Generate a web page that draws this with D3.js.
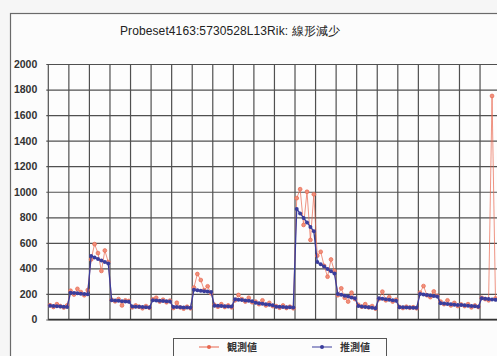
<!DOCTYPE html>
<html>
<head>
<meta charset="utf-8">
<script src="https://cdn.jsdelivr.net/npm/d3@7"></script>
<style>
  body { margin: 0; background: #f6f6f6; }
  svg { display: block; }
</style>
</head>
<body>
<svg id="chart" width="497" height="356"></svg>
<script>
// Expression profile: 22 sample groups, 6 time points each
const chartTitle = "Probeset4163:5730528L13Rik: 線形減少";
const seriesNames = ["観測値", "推測値"];
const pointsPerGroup = 6;
const groupCount = 22;
const yTicks = [0, 200, 400, 600, 800, 1000, 1200, 1400, 1600, 1800, 2000];

// observed values
const observed = [
  112, 98, 120, 105, 94, 110,
  225, 195, 240, 215, 190, 230,
  470, 590, 520, 380, 540, 450,
  155, 142, 160, 110, 150, 145,
  95, 110, 100, 88, 105, 92,
  158, 170, 140, 155, 135, 148,
  90, 131, 95, 85, 100, 88,
  250, 356, 309, 230, 260, 205,
  115, 100, 120, 98, 110, 95,
  150, 192, 160, 140, 170, 135,
  140, 120, 150, 110, 130, 105,
  105, 92, 110, 90, 100, 88,
  950, 1020, 740, 1000, 623, 980,
  500, 530, 420, 335, 470, 380,
  190, 244, 170, 140, 210, 160,
  115, 100, 120, 95, 105, 85,
  160, 218, 150, 175, 140, 155,
  98, 90, 100, 92, 96, 88,
  210, 262, 190, 175, 220, 185,
  140, 120, 150, 110, 130, 105,
  118, 105, 120, 95, 110, 98,
  170, 160, 150, 1750, 165, 155
];

// fitted (linearly decreasing) values
const estimated = [
  108, 106, 104, 102, 100, 98,
  210, 208, 205, 202, 200, 197,
  498, 486, 474, 462, 450, 438,
  150, 148, 146, 143, 141, 139,
  102, 100, 99, 97, 96, 94,
  150, 148, 146, 144, 142, 140,
  98, 97, 96, 94, 93, 92,
  232, 229, 226, 222, 219, 216,
  108, 107, 105, 104, 102, 101,
  158, 155, 152, 149, 146, 143,
  132, 128, 124, 120, 116, 112,
  100, 99, 98, 96, 95, 94,
  865, 830, 795, 760, 725, 690,
  450, 432, 414, 396, 378, 360,
  200, 193, 186, 180, 173, 166,
  106, 102, 98, 95, 92, 88,
  166, 162, 158, 155, 151, 147,
  96, 95, 94, 93, 92, 91,
  200, 196, 192, 188, 184, 180,
  128, 125, 122, 119, 116, 113,
  114, 111, 108, 106, 103, 100,
  166, 163, 160, 157, 154, 151
];

const colors = { obs: "#e8674f", est: "#3a3d9c" };
const font = "'Liberation Sans', Arial, sans-serif";

const svg = d3.select("#chart");

// chart area with frame
svg.append("rect").attr("x", 10.5).attr("y", 13.5).attr("width", 520).attr("height", 360)
  .attr("fill", "#fcfcfc").attr("stroke", "#6a6a6a").attr("stroke-width", 1.2);

svg.append("text").attr("x", 230).attr("y", 35)
  .attr("text-anchor", "middle").attr("font-family", font)
  .attr("font-size", 12).attr("fill", "#222").attr("letter-spacing", 0.1).text(chartTitle);

const n = pointsPerGroup * groupCount;
const x = d3.scaleLinear().domain([0, n]).range([48.3, 500.6]);
const y = d3.scaleLinear().domain([0, 2000]).range([319.5, 64]);

// plot background
svg.append("rect").attr("x", x(0)).attr("y", y(2000))
  .attr("width", x(n) - x(0)).attr("height", y(0) - y(2000)).attr("fill", "#fdfdfd");

// horizontal gridlines + y axis labels
const yAxis = d3.axisLeft(y).tickValues(yTicks).tickSize(-(x(n) - x(0)) - 2).tickPadding(10)
  .tickFormat(d3.format("d"));
const gy = svg.append("g").attr("transform", `translate(${x(0) - 2},0)`).call(yAxis);
gy.select(".domain").remove();
gy.selectAll(".tick line").attr("stroke", "#505050").attr("stroke-width", 1.2);
gy.selectAll(".tick text").attr("font-family", font).attr("font-size", 10.5)
  .attr("font-weight", "bold").attr("fill", "#333").attr("x", -9).attr("dx", 0);

// vertical gridlines at group boundaries
svg.append("g").selectAll("line").data(d3.range(0, groupCount + 1)).join("line")
  .attr("x1", d => x(d * pointsPerGroup)).attr("x2", d => x(d * pointsPerGroup))
  .attr("y1", y(2000)).attr("y2", y(0))
  .attr("stroke", "#505050").attr("stroke-width", 1.2);

// axis baseline
svg.append("line").attr("x1", x(0)).attr("x2", x(n)).attr("y1", y(0)).attr("y2", y(0))
  .attr("stroke", "#333").attr("stroke-width", 1.4);

const px = (d, i) => x(i + 0.5);
const line = d3.line().x(px).y(d => y(d));

// observed series
svg.append("path").datum(observed).attr("d", line)
  .attr("fill", "none").attr("stroke", colors.obs).attr("stroke-width", 1).attr("stroke-opacity", 0.7);
svg.append("g").selectAll("circle").data(observed).join("circle")
  .attr("cx", px).attr("cy", d => y(d)).attr("r", 1.9)
  .attr("fill", "#f0907c").attr("stroke", colors.obs).attr("stroke-width", 0.7);

// estimated series
svg.append("path").datum(estimated).attr("d", line)
  .attr("fill", "none").attr("stroke", colors.est).attr("stroke-width", 1.3);
svg.append("g").selectAll("circle").data(estimated).join("circle")
  .attr("cx", px).attr("cy", d => y(d)).attr("r", 2)
  .attr("fill", colors.est);

// legend
const lg = svg.append("g");
lg.append("rect").attr("x", 173.5).attr("y", 338.5).attr("width", 213).attr("height", 30)
  .attr("fill", "#fcfcfc").attr("stroke", "#555").attr("stroke-width", 1);
const items = [
  { name: seriesNames[0], c: colors.obs, x0: 199 },
  { name: seriesNames[1], c: colors.est, x0: 312 }
];
items.forEach(it => {
  lg.append("line").attr("x1", it.x0).attr("x2", it.x0 + 20).attr("y1", 347).attr("y2", 347)
    .attr("stroke", it.c).attr("stroke-width", 1);
  lg.append("circle").attr("cx", it.x0 + 10).attr("cy", 347).attr("r", 2).attr("fill", it.c);
  lg.append("text").attr("x", it.x0 + 28).attr("y", 351).attr("font-family", "'Noto Sans CJK JP', sans-serif")
    .attr("font-size", 10).attr("font-weight", "bold").attr("fill", "#333").text(it.name);
});
</script>
</body>
</html>
